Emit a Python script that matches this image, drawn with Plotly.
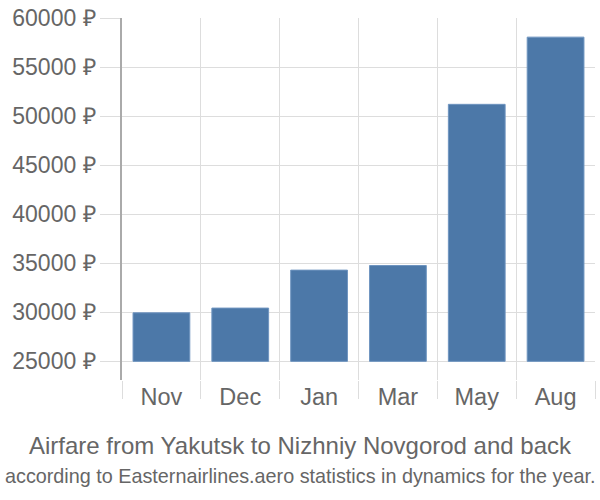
import plotly.graph_objects as go

months = ["Nov", "Dec", "Jan", "Mar", "May", "Aug"]
prices = [29950, 30430, 34300, 34770, 51200, 58050]
base_price = 25000
tick_vals = [25000, 30000, 35000, 40000, 45000, 50000, 55000, 60000]
tick_text = [f"{v} ₽" for v in tick_vals]

title_line1 = "Airfare from Yakutsk to Nizhniy Novgorod and back"
title_line2 = "according to Easternairlines.aero statistics in dynamics for the year."

fig = go.Figure(
    go.Bar(
        x=months,
        y=[p - base_price for p in prices],
        base=base_price,
        width=0.72,
        marker=dict(color="#4c78a8", line=dict(color="#6f95c0", width=1)),
        hovertext=[f"{p} ₽" for p in prices],
    )
)

fig.update_layout(
    width=600,
    height=500,
    margin=dict(l=122, r=5, t=15, b=120),
    plot_bgcolor="white",
    paper_bgcolor="white",
    font=dict(family="Liberation Sans, Arial, sans-serif", color="#666666", size=22),
    showlegend=False,
    xaxis=dict(
        type="category",
        tickson="boundaries",
        showgrid=True,
        gridcolor="#dddddd",
        gridwidth=1,
        ticks="outside",
        ticklen=18,
        tickcolor="#dddddd",
        showline=False,
        tickfont=dict(size=23.5, color="#666666"),
    ),
    yaxis=dict(
        range=[23100, 60000],
        tickvals=tick_vals,
        ticktext=tick_text,
        showgrid=True,
        gridcolor="#dddddd",
        gridwidth=1,
        ticks="outside",
        ticklen=20,
        tickcolor="#dddddd",
        showline=True,
        linecolor="#aaaaaa",
        linewidth=1.5,
        zeroline=False,
        tickfont=dict(size=23, color="#666666"),
    ),
    annotations=[
        dict(text=title_line1, showarrow=False, xref="paper", yref="paper",
             font=dict(size=24, color="#666666")),
        dict(text=title_line2, showarrow=False, xref="paper", yref="paper",
             font=dict(size=19.8, color="#666666")),
    ],
)

# place title lines at pixel centers (paper coords)
plot_h = 500 - 15 - 120
for ann, ypx in zip(fig.layout.annotations, [446, 477]):
    ann.y = (500 - 120 - ypx) / plot_h
    ann.yanchor = "middle"
    ann.xanchor = "center"
    ann.x = (300 - 122) / (600 - 122 - 5)

fig.write_html("out.html")
